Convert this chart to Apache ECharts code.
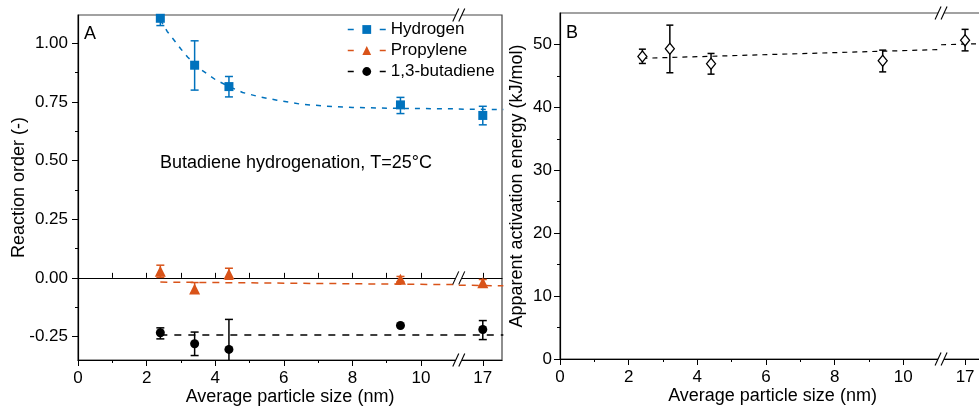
<!DOCTYPE html>
<html>
<head>
<meta charset="utf-8">
<script src="https://cdn.jsdelivr.net/npm/echarts@6/dist/echarts.min.js"></script>
<style>
  html, body { margin: 0; padding: 0; background: #fff; }
  #main { width: 979px; height: 408px; }
</style>
</head>
<body>
<div id="main"></div>
<script>
// particle sizes (nm)
const sizeA = [2.4, 3.4, 4.4, 9.4, 17];
const sizeB = [2.4, 3.2, 4.4, 9.4, 17];

// panel A: reaction orders with error bar limits
const h2Val = [1.106, 0.906, 0.815, 0.737, 0.692];
const h2Lo = [1.075, 0.80, 0.771, 0.70, 0.652];
const h2Hi = [1.135, 1.01, 0.858, 0.769, 0.731];
const c3Val = [0.028, -0.047, 0.016, -0.006, -0.021];
const c3Lo = [0.002, -0.064, -0.006, -0.016, -0.04];
const c3Hi = [0.054, -0.02, 0.041, 0.006, -0.007];
const bdVal = [-0.234, -0.281, -0.305, -0.203, -0.22];
const bdLo = [-0.26, -0.331, -0.435, -0.203, -0.263];
const bdHi = [-0.213, -0.231, -0.177, -0.203, -0.182];

// panel B: apparent activation energy (kJ/mol)
const eaVal = [48.1, 49.3, 46.95, 47.4, 50.65];
const eaLo = [46.98, 45.5, 45.28, 45.64, 48.98];
const eaHi = [49.25, 53.07, 48.57, 49.1, 52.4];

const fitH2X = [2.4, 2.6, 2.87, 3.0, 3.2, 3.6, 4.0, 4.4, 4.8, 5.3, 5.8, 6.5, 7.2, 8.0, 9.4, 11.1, null, 16.3, 17.6];
const fitH2Y = [1.10, 1.05, 1.0, 0.975, 0.94, 0.886, 0.845, 0.815, 0.79, 0.771, 0.757, 0.74, 0.732, 0.726, 0.722, 0.72, null, 0.719, 0.717];
const fitC3X = [2.4, 11.1, null, 16.3, 17.6];
const fitC3Y = [-0.018, -0.029, null, -0.031, -0.034];
const fitBdX = [2.4, 11.1, null, 16.3, 17.6];
const fitBdY = [-0.243, -0.243, null, -0.243, -0.243];
const fitEaX = [2.4, 11.1, null, 16.3, 17.6];
const fitEaY = [47.8, 49.2, null, 49.95, 50.15];

// tick labels
const xMajor = [0, 2, 4, 6, 8, 10, 17];
const xMinor = [1, 3, 5, 7, 9];
const yMajorA = [-0.25, 0, 0.25, 0.5, 0.75, 1.0];
const yMinorA = [-0.125, 0.125, 0.375, 0.625, 0.875];
const yMajorB = [0, 10, 20, 30, 40, 50];
const yMinorB = [5, 15, 25, 35, 45];

const BREAK = 11.1;
const BLUE = '#0072bd', ORANGE = '#d95319', BLACK = '#000';
const FONT = 'Liberation Sans, Arial, sans-serif';

// axis break: values above the break are shifted so 17 sits just after it
function toAxis(x) {
  return x > BREAK ? x - 17 + 11.8 : x;
}
function fromAxis(t) {
  return t > BREAK ? t + 17 - 11.8 : t;
}

function pairs(xs, ys) {
  return xs.map((x, i) => (x === null ? [BREAK, '-'] : [toAxis(x), ys[i]]));
}

function errSeries(xs, lo, hi, color, xi, yi, w) {
  const data = xs.map((x, i) => [toAxis(x), lo[i], hi[i]]).filter(d => d[1] !== d[2]);
  return {
    type: 'custom', xAxisIndex: xi, yAxisIndex: yi, clip: true, z: 3,
    data: data, encode: { x: 0, y: [1, 2] }, silent: true,
    renderItem(params, api) {
      const top = api.coord([api.value(0), api.value(2)]);
      const bot = api.coord([api.value(0), api.value(1)]);
      const st = { stroke: color, lineWidth: 1.5 };
      return {
        type: 'group', children: [
          { type: 'line', shape: { x1: top[0], y1: top[1], x2: bot[0], y2: bot[1] }, style: st },
          { type: 'line', shape: { x1: top[0] - w, y1: top[1], x2: top[0] + w, y2: top[1] }, style: st },
          { type: 'line', shape: { x1: bot[0] - w, y1: bot[1], x2: bot[0] + w, y2: bot[1] }, style: st }
        ]
      };
    }
  };
}

function fitSeries(name, xs, ys, color, dash, xi, yi, symbol) {
  return {
    name: name, type: 'line', xAxisIndex: xi, yAxisIndex: yi,
    data: pairs(xs, ys), symbol: symbol || 'none', showSymbol: false,
    connectNulls: false, z: 2, silent: true,
    itemStyle: { color: color },
    lineStyle: { color: color, width: 1.5, type: dash }
  };
}

function pointSeries(xs, ys, symbol, size, color, xi, yi, fill) {
  return {
    type: 'scatter', xAxisIndex: xi, yAxisIndex: yi, z: 4, silent: true,
    data: xs.map((x, i) => [toAxis(x), ys[i]]),
    symbol: symbol, symbolSize: size,
    itemStyle: fill ? { color: fill, borderColor: color, borderWidth: 1.3, opacity: 1 } : { color: color, opacity: 1 }
  };
}

const labelStyle = { color: '#000', fontSize: 17, fontFamily: FONT };
const nameStyle = { color: '#000', fontSize: 18, fontFamily: FONT };

function xMain(grid, max) {
  return {
    type: 'value', gridIndex: grid, position: 'bottom', min: 0, max: max,
    name: 'Average particle size (nm)', nameLocation: 'middle', nameGap: 28, nameTextStyle: nameStyle,
    nameMoveOverlap: false,
    axisLine: { onZero: false, lineStyle: { color: '#000', width: 1.2 } },
    axisTick: { customValues: xMajor.map(toAxis), length: 6, lineStyle: { color: '#000' } },
    axisLabel: { customValues: xMajor.map(toAxis), margin: 10, ...labelStyle,
      formatter: v => String(Math.round(fromAxis(v))) },
    splitLine: { show: false }
  };
}
function xMinorAxis(grid, max) {
  return {
    type: 'value', gridIndex: grid, position: 'bottom', min: 0, max: max,
    axisLine: { show: false, onZero: false },
    axisTick: { customValues: xMinor, length: 3, lineStyle: { color: '#000' } },
    axisLabel: { show: false }, splitLine: { show: false }
  };
}

const chart = echarts.init(document.getElementById('main'));
const maxA = 12.36, maxB = 12.38;

chart.setOption({
  animation: false,
  backgroundColor: '#fff',
  textStyle: { fontFamily: FONT },
  grid: [
    { left: 78, top: 15, width: 424, height: 345, show: true, borderColor: '#444', borderWidth: 1.2, outerBoundsMode: 'none' },
    { left: 560, top: 13, width: 425, height: 346, show: true, borderColor: '#444', borderWidth: 1.2, outerBoundsMode: 'none' }
  ],
  legend: {
    data: ['Hydrogen', 'Propylene', '1,3-butadiene'],
    orient: 'vertical', left: 347, top: 21, padding: 0,
    itemWidth: 38, itemHeight: 11, itemGap: 4,
    textStyle: { color: '#000', fontSize: 17, fontFamily: FONT },
    lineStyle: { type: [6, 26], width: 1.5 },
    selectedMode: false
  },
  xAxis: [
    xMain(0, maxA),
    {
      // zero line with upward ticks
      type: 'value', gridIndex: 0, position: 'bottom', min: 0, max: maxA,
      axisLine: { onZero: true, onZeroAxisIndex: 0, lineStyle: { color: '#000', width: 1.2 } },
      axisTick: { inside: true, customValues: [0, 1, 2, 3, 4, 5, 6, 7, 8, 9, 10, 11.8], length: 5, lineStyle: { color: '#000' } },
      axisLabel: { show: false }, splitLine: { show: false }
    },
    xMinorAxis(0, maxA),
    xMain(1, maxB),
    xMinorAxis(1, maxB)
  ],
  yAxis: [
    {
      type: 'value', gridIndex: 0, position: 'left', min: -0.35, max: 1.12,
      name: 'Reaction order (-)', nameLocation: 'middle', nameGap: 50, nameTextStyle: nameStyle,
      nameMoveOverlap: false,
      axisLine: { show: true, onZero: false, lineStyle: { color: '#000', width: 1.2 } },
      axisTick: { customValues: yMajorA, length: 6, lineStyle: { color: '#000' } },
      axisLabel: { customValues: yMajorA, margin: 10, ...labelStyle, formatter: v => v.toFixed(2) },
      splitLine: { show: false }
    },
    {
      type: 'value', gridIndex: 0, position: 'left', min: -0.35, max: 1.12,
      axisLine: { show: false, onZero: false },
      axisTick: { customValues: yMinorA, length: 3, lineStyle: { color: '#000' } },
      axisLabel: { show: false }, splitLine: { show: false }
    },
    {
      type: 'value', gridIndex: 1, position: 'left', min: 0, max: 55,
      name: 'Apparent activation energy (kJ/mol)', nameLocation: 'middle', nameGap: 34, nameTextStyle: nameStyle,
      nameMoveOverlap: false,
      axisLine: { show: true, onZero: false, lineStyle: { color: '#000', width: 1.2 } },
      axisTick: { customValues: yMajorB, length: 6, lineStyle: { color: '#000' } },
      axisLabel: { customValues: yMajorB, margin: 8, ...labelStyle },
      splitLine: { show: false }
    },
    {
      type: 'value', gridIndex: 1, position: 'left', min: 0, max: 55,
      axisLine: { show: false, onZero: false },
      axisTick: { customValues: yMinorB, length: 3, lineStyle: { color: '#000' } },
      axisLabel: { show: false }, splitLine: { show: false }
    }
  ],
  series: [
    fitSeries('Hydrogen', fitH2X, fitH2Y, BLUE, [5, 6], 0, 0, 'rect'),
    fitSeries('Propylene', fitC3X, fitC3Y, ORANGE, [7, 6], 0, 0, 'triangle'),
    fitSeries('1,3-butadiene', fitBdX, fitBdY, BLACK, [7, 7], 0, 0, 'circle'),
    errSeries(sizeA, h2Lo, h2Hi, BLUE, 0, 0, 4),
    errSeries(sizeA, c3Lo, c3Hi, ORANGE, 0, 0, 4),
    errSeries(sizeA, bdLo, bdHi, BLACK, 0, 0, 4),
    pointSeries(sizeA, h2Val, 'rect', 9, BLUE, 0, 0),
    pointSeries(sizeA, c3Val, 'triangle', 11, ORANGE, 0, 0),
    pointSeries(sizeA, bdVal, 'circle', 9, BLACK, 0, 0),
    {
      type: 'line', xAxisIndex: 3, yAxisIndex: 2, data: pairs(fitEaX, fitEaY),
      symbol: 'none', connectNulls: false, z: 2, silent: true,
      lineStyle: { color: '#000', width: 1.2, type: [5, 5] }
    },
    errSeries(sizeB, eaLo, eaHi, BLACK, 3, 2, 3.5),
    pointSeries(sizeB, eaVal, 'diamond', [9, 11], BLACK, 3, 2, '#fff')
  ]
});

// decorations: panel letters, annotation and axis-break marks
function breakMark(x, y) {
  const st = { stroke: '#000', lineWidth: 1.1 };
  return [
    { type: 'rect', shape: { x: x - 3, y: y - 2, width: 6, height: 4 }, style: { fill: '#fff' }, z: 100 },
    { type: 'line', shape: { x1: x - 6, y1: y + 6.5, x2: x, y2: y - 6.5 }, style: st, z: 101 },
    { type: 'line', shape: { x1: x, y1: y + 6.5, x2: x + 6, y2: y - 6.5 }, style: st, z: 101 }
  ];
}
const bxA = chart.convertToPixel({ xAxisIndex: 0 }, BREAK);
const bxB = chart.convertToPixel({ xAxisIndex: 3 }, BREAK);
const yZero = chart.convertToPixel({ yAxisIndex: 0 }, 0);
const yBotA = chart.convertToPixel({ yAxisIndex: 0 }, -0.35);
const yTopA = chart.convertToPixel({ yAxisIndex: 0 }, 1.12);
const yBotB = chart.convertToPixel({ yAxisIndex: 2 }, 0);
const yTopB = chart.convertToPixel({ yAxisIndex: 2 }, 55);

const textStyleBase = { fill: '#000', fontFamily: FONT };
chart.setOption({
  graphic: [
    { type: 'text', left: 84, top: 25, style: { ...textStyleBase, text: 'A', fontSize: 18 } },
    { type: 'text', left: 566, top: 24, style: { ...textStyleBase, text: 'B', fontSize: 18 } },
    { type: 'text', left: 160, top: 154, style: { ...textStyleBase, text: 'Butadiene hydrogenation, T=25°C', fontSize: 18 } },
    ...breakMark(bxA, yBotA),
    ...breakMark(bxA, yTopA),
    ...breakMark(bxA, yZero),
    ...breakMark(bxB, yBotB),
    ...breakMark(bxB, yTopB)
  ]
});

window.addEventListener('resize', () => chart.resize());
</script>
</body>
</html>
